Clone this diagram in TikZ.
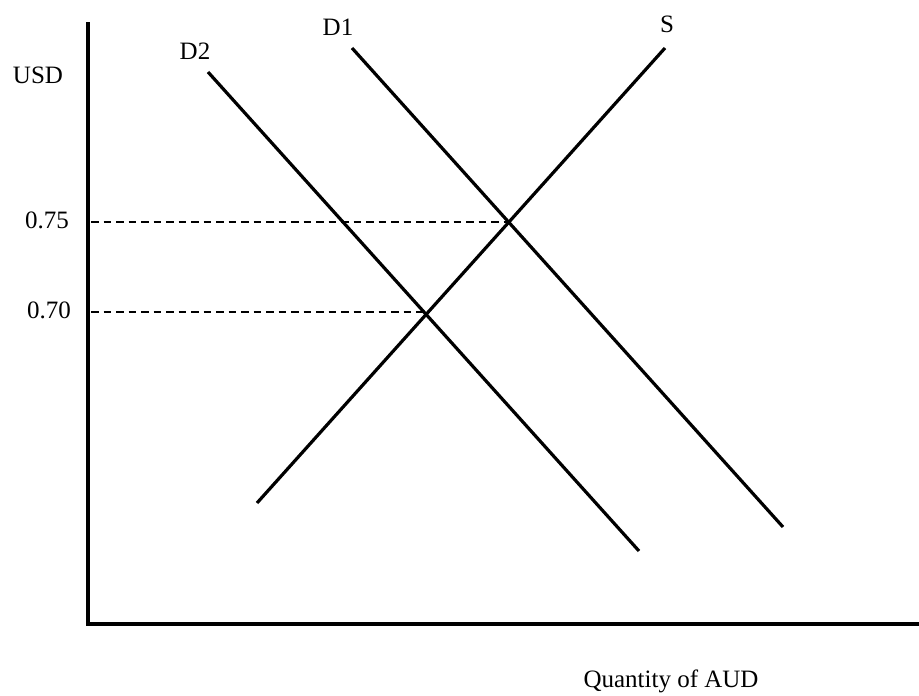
\documentclass[tikz,border=0pt]{standalone}
\usepackage{fontspec}
\setmainfont{Liberation Serif}
\begin{document}
\begin{tikzpicture}[x=1pt,y=-1pt,
  axisline/.style={line width=3.4pt},
  curve/.style={line width=3.2pt},
  guide/.style={line width=1.6pt,dash pattern=on 7.5pt off 5pt},
  lbl/.style={anchor=base,inner sep=0pt,font=\fontsize{25}{30}\selectfont}]
\useasboundingbox (0,0) rectangle (919,696);
% axes
\coordinate (ytop) at (88,24);
\coordinate (origin) at (88,624);
\coordinate (xend) at (919,624);
\draw[axisline,line cap=rect] (ytop) -- (origin) -- (xend);
% curves
\coordinate (s1) at (257,503);
\coordinate (s2) at (665,48);
\coordinate (da1) at (352,48);
\coordinate (da2) at (783,527);
\coordinate (db1) at (208,72);
\coordinate (db2) at (639,551);
\draw[curve] (s1) -- (s2);
\draw[curve] (da1) -- (da2);
\draw[curve] (db1) -- (db2);
% equilibria
\coordinate (e1) at (508,222);
\coordinate (e2) at (425,312);
\coordinate (a1) at (91,222);
\coordinate (a2) at (91,312);
\draw[guide] (a1) -- (e1);
\draw[guide] (a2) -- (e2);
% labels
\node[lbl] (usd) at (38,83) {USD};
\node[lbl] (ld2) at (195,59) {D2};
\node[lbl] (ld1) at (338,35) {D1};
\node[lbl] (ls) at (667,32) {S};
\node[lbl] (p75) at (47,228) {0.75};
\node[lbl] (p70) at (49,318) {0.70};
\node[lbl] (qaud) at (671,687) {Quantity of AUD};
\end{tikzpicture}
\end{document}
